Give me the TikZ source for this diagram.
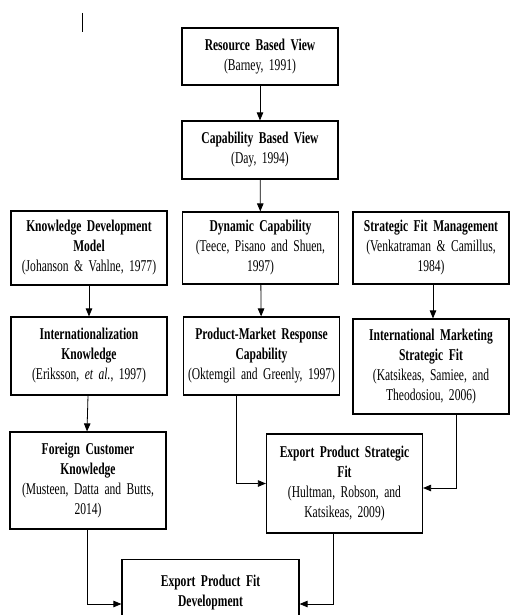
\documentclass[tikz,border=0pt]{standalone}
\usepackage{fontspec}
\setmainfont[FakeStretch=0.7]{Liberation Serif}
\usetikzlibrary{arrows.meta,positioning}
\newcommand\tightsp{\spaceskip=2.6pt plus 1pt minus 0.5pt\relax}

\begin{document}
\begin{tikzpicture}[x=1pt,y=-1pt,
  box/.style={draw,line width=1.2pt,text width=150pt,inner xsep=3pt,align=center,font=\fontsize{16.5}{20}\selectfont\tightsp},
  arr/.style={-{Triangle[length=8pt,width=6.5pt]},line width=0.8pt}]
  \useasboundingbox (0,0) rectangle (509,615);
  % cursor mark
  \draw[line width=0.8pt] (82,13) -- (82,32);
  % centre column
  \node[box,minimum height=57pt] (rbv) at (260,56.5) {\textbf{Resource Based View}\\(Barney, 1991)};
  \node[box,minimum height=58pt] (cbv) at (260,150) {\textbf{Capability Based View}\\(Day, 1994)};
  \node[box,minimum height=72pt] (dc) at (260.5,248) {\textbf{Dynamic Capability}\\(Teece, Pisano and Shuen,\\1997)};
  \node[box,minimum height=78pt] (pmrc) at (261.5,356) {\textbf{Product-Market Response}\\\textbf{Capability}\\(Oktemgil and Greenly, 1997)};
  % left column
  \node[box,minimum height=74pt] (kdm) at (89,248) {\textbf{Knowledge Development}\\\textbf{Model}\\(Johanson \& Vahlne, 1977)};
  \node[box,minimum height=78pt] (ik) at (89,356) {\textbf{Internationalization}\\\textbf{Knowledge}\\(Eriksson, \textit{et al.}, 1997)};
  \node[box,minimum height=97pt] (fck) at (88,480.5) {\textbf{Foreign Customer}\\\textbf{Knowledge}\\(Musteen, Datta and Butts,\\2014)};
  % right column
  \node[box,minimum height=72pt] (sfm) at (431,248) {\textbf{Strategic Fit Management}\\(Venkatraman \& Camillus,\\1984)};
  \node[box,minimum height=95pt] (imsf) at (431,366.5) {\textbf{International Marketing}\\\textbf{Strategic Fit}\\(Katsikeas, Samiee, and\\Theodosiou, 2006)};
  % lower nodes
  \node[box,minimum height=99pt] (epsf) at (344.5,483.5) {\textbf{Export Product Strategic}\\\textbf{Fit}\\(Hultman, Robson, and\\Katsikeas, 2009)};
  \node[box,text width=171pt,anchor=north,inner ysep=15pt] (epfd) at (210.5,559) {\textbf{Export Product Fit}\\\textbf{Development}};
  % links
  \draw[arr] (rbv) -- (cbv);
  \draw[arr] (cbv) -- (dc);
  \draw[arr] (kdm) -- (ik);
  \draw[arr] (dc) -- (pmrc);
  \draw[arr] ([xshift=2pt]sfm.south) -- ([xshift=2pt]imsf.north);
  \draw[arr] ([xshift=-1pt]ik.south) -- ([xshift=-1pt]fck.north);
  \draw[arr] ([xshift=-25.5pt]pmrc.south) |- (epsf.west);
  \draw[arr] ([xshift=25pt]imsf.south) |- ([yshift=-4.5pt]epsf.east);
  \draw[arr] ([xshift=-1pt]fck.south) |- ([yshift=-45pt]epfd.north west);
  \draw[arr] ([xshift=-11.5pt]epsf.south) |- ([yshift=-45pt]epfd.north east);
\end{tikzpicture}
\end{document}
